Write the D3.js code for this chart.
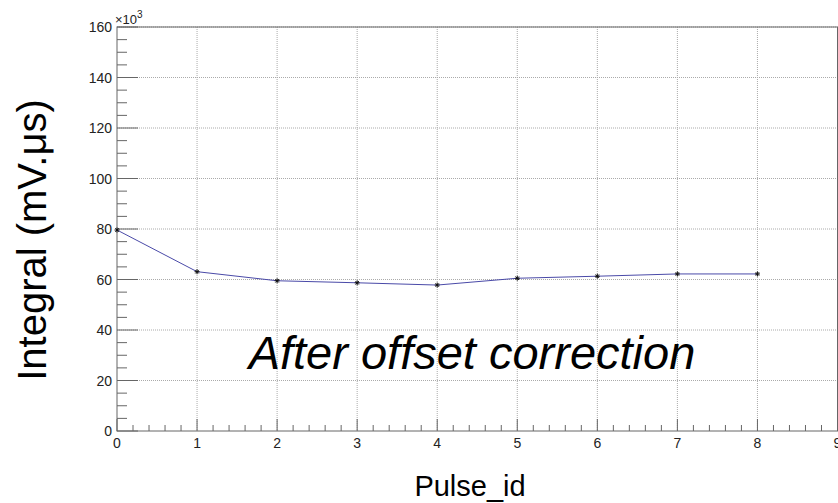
<!DOCTYPE html>
<html><head><meta charset="utf-8">
<script src="https://cdn.jsdelivr.net/npm/d3@7"></script>
<style>body{margin:0;background:#fff}svg{display:block}text{font-family:"Liberation Sans",Arial,sans-serif}</style>
</head><body>
<svg id="c" width="838" height="503"></svg>
<script>
const pulseIds = [0,1,2,3,4,5,6,7,8];
const integralK = [79.6,63.1,59.5,58.7,57.8,60.5,61.3,62.2,62.2];
const xTicks = [0,1,2,3,4,5,6,7,8,9];
const yTicks = [0,20,40,60,80,100,120,140,160];
const xTitle = "Pulse_id";
const yTitle = "Integral (mV.μs)";
const note = "After offset correction";

const svg = d3.select("#c");
const L=117, R=837.5, T=27, B=431;
const x = d3.scaleLinear().domain([0,9]).range([L,R]);
const y = d3.scaleLinear().domain([0,160]).range([B,T]);
const axisCol="#666", gridCol="#aaa";

// grid
const g = svg.append("g");
g.selectAll("line.gx").data(xTicks.slice(1)).enter().append("line")
  .attr("x1",d=>x(d)).attr("x2",d=>x(d)).attr("y1",T).attr("y2",B)
  .attr("stroke",gridCol).attr("stroke-width",1).attr("stroke-dasharray","1,1");
g.selectAll("line.gy").data(yTicks.slice(1)).enter().append("line")
  .attr("x1",L).attr("x2",R).attr("y1",d=>y(d)).attr("y2",d=>y(d))
  .attr("stroke",gridCol).attr("stroke-width",1).attr("stroke-dasharray","1,1");

// frame
svg.append("rect").attr("x",L).attr("y",T).attr("width",R-L).attr("height",B-T)
  .attr("fill","none").attr("stroke",axisCol).attr("stroke-width",1);

// x axis ticks
const xMinor = d3.range(0,9.001,0.2);
svg.append("g").selectAll("line").data(xMinor).enter().append("line")
  .attr("x1",d=>x(d)).attr("x2",d=>x(d)).attr("y1",B)
  .attr("y2",d=>Math.abs(d-Math.round(d))<1e-6?B-12:B-6)
  .attr("stroke",axisCol).attr("stroke-width",1);
svg.append("g").selectAll("text").data(xTicks).enter().append("text")
  .attr("x",d=>x(d)).attr("y",448).attr("text-anchor","middle")
  .attr("font-size",14).attr("fill","#222").text(d=>d);

// y axis ticks
const yMinor = d3.range(0,160.001,5);
svg.append("g").selectAll("line").data(yMinor).enter().append("line")
  .attr("y1",d=>y(d)).attr("y2",d=>y(d)).attr("x1",L)
  .attr("x2",d=>d%20===0?L+21:L+10)
  .attr("stroke",axisCol).attr("stroke-width",1);
svg.append("g").selectAll("text").data(yTicks).enter().append("text")
  .attr("x",112).attr("y",d=>y(d)+5).attr("text-anchor","end")
  .attr("font-size",14).attr("fill","#222").text(d=>d);

// exponent
const ex = svg.append("text").attr("x",115).attr("y",24).attr("font-size",13).attr("fill","#222");
ex.append("tspan").text("×10");
ex.append("tspan").attr("font-size",10).attr("dy",-6).text("3");

// line
const line = d3.line().x((d,i)=>x(pulseIds[i])).y(d=>y(d));
svg.append("path").datum(integralK).attr("d",line).attr("fill","none")
  .attr("stroke","#4a4aa8").attr("stroke-width",1);

// star markers
const mk = svg.append("g").attr("stroke","#111").attr("stroke-width",1);
integralK.forEach((v,i)=>{
  const cx=x(pulseIds[i]), cy=y(v), s=2.5;
  mk.append("line").attr("x1",cx-s).attr("x2",cx+s).attr("y1",cy).attr("y2",cy);
  mk.append("line").attr("x1",cx).attr("x2",cx).attr("y1",cy-s).attr("y2",cy+s);
  mk.append("line").attr("x1",cx-s*0.7).attr("x2",cx+s*0.7).attr("y1",cy-s*0.7).attr("y2",cy+s*0.7);
  mk.append("line").attr("x1",cx-s*0.7).attr("x2",cx+s*0.7).attr("y1",cy+s*0.7).attr("y2",cy-s*0.7);
});

// titles
svg.append("text").attr("x",470).attr("y",496).attr("text-anchor","middle")
  .attr("font-size",29).attr("fill","#000").text(xTitle);
svg.append("text").attr("transform","translate(46,240) rotate(-90)").attr("text-anchor","middle")
  .attr("font-size",40).attr("fill","#000").text(yTitle);

svg.append("text").attr("x",472).attr("y",369).attr("text-anchor","middle")
  .attr("font-size",47).attr("font-style","italic").attr("fill","#000").text(note);
</script>
</body></html>
